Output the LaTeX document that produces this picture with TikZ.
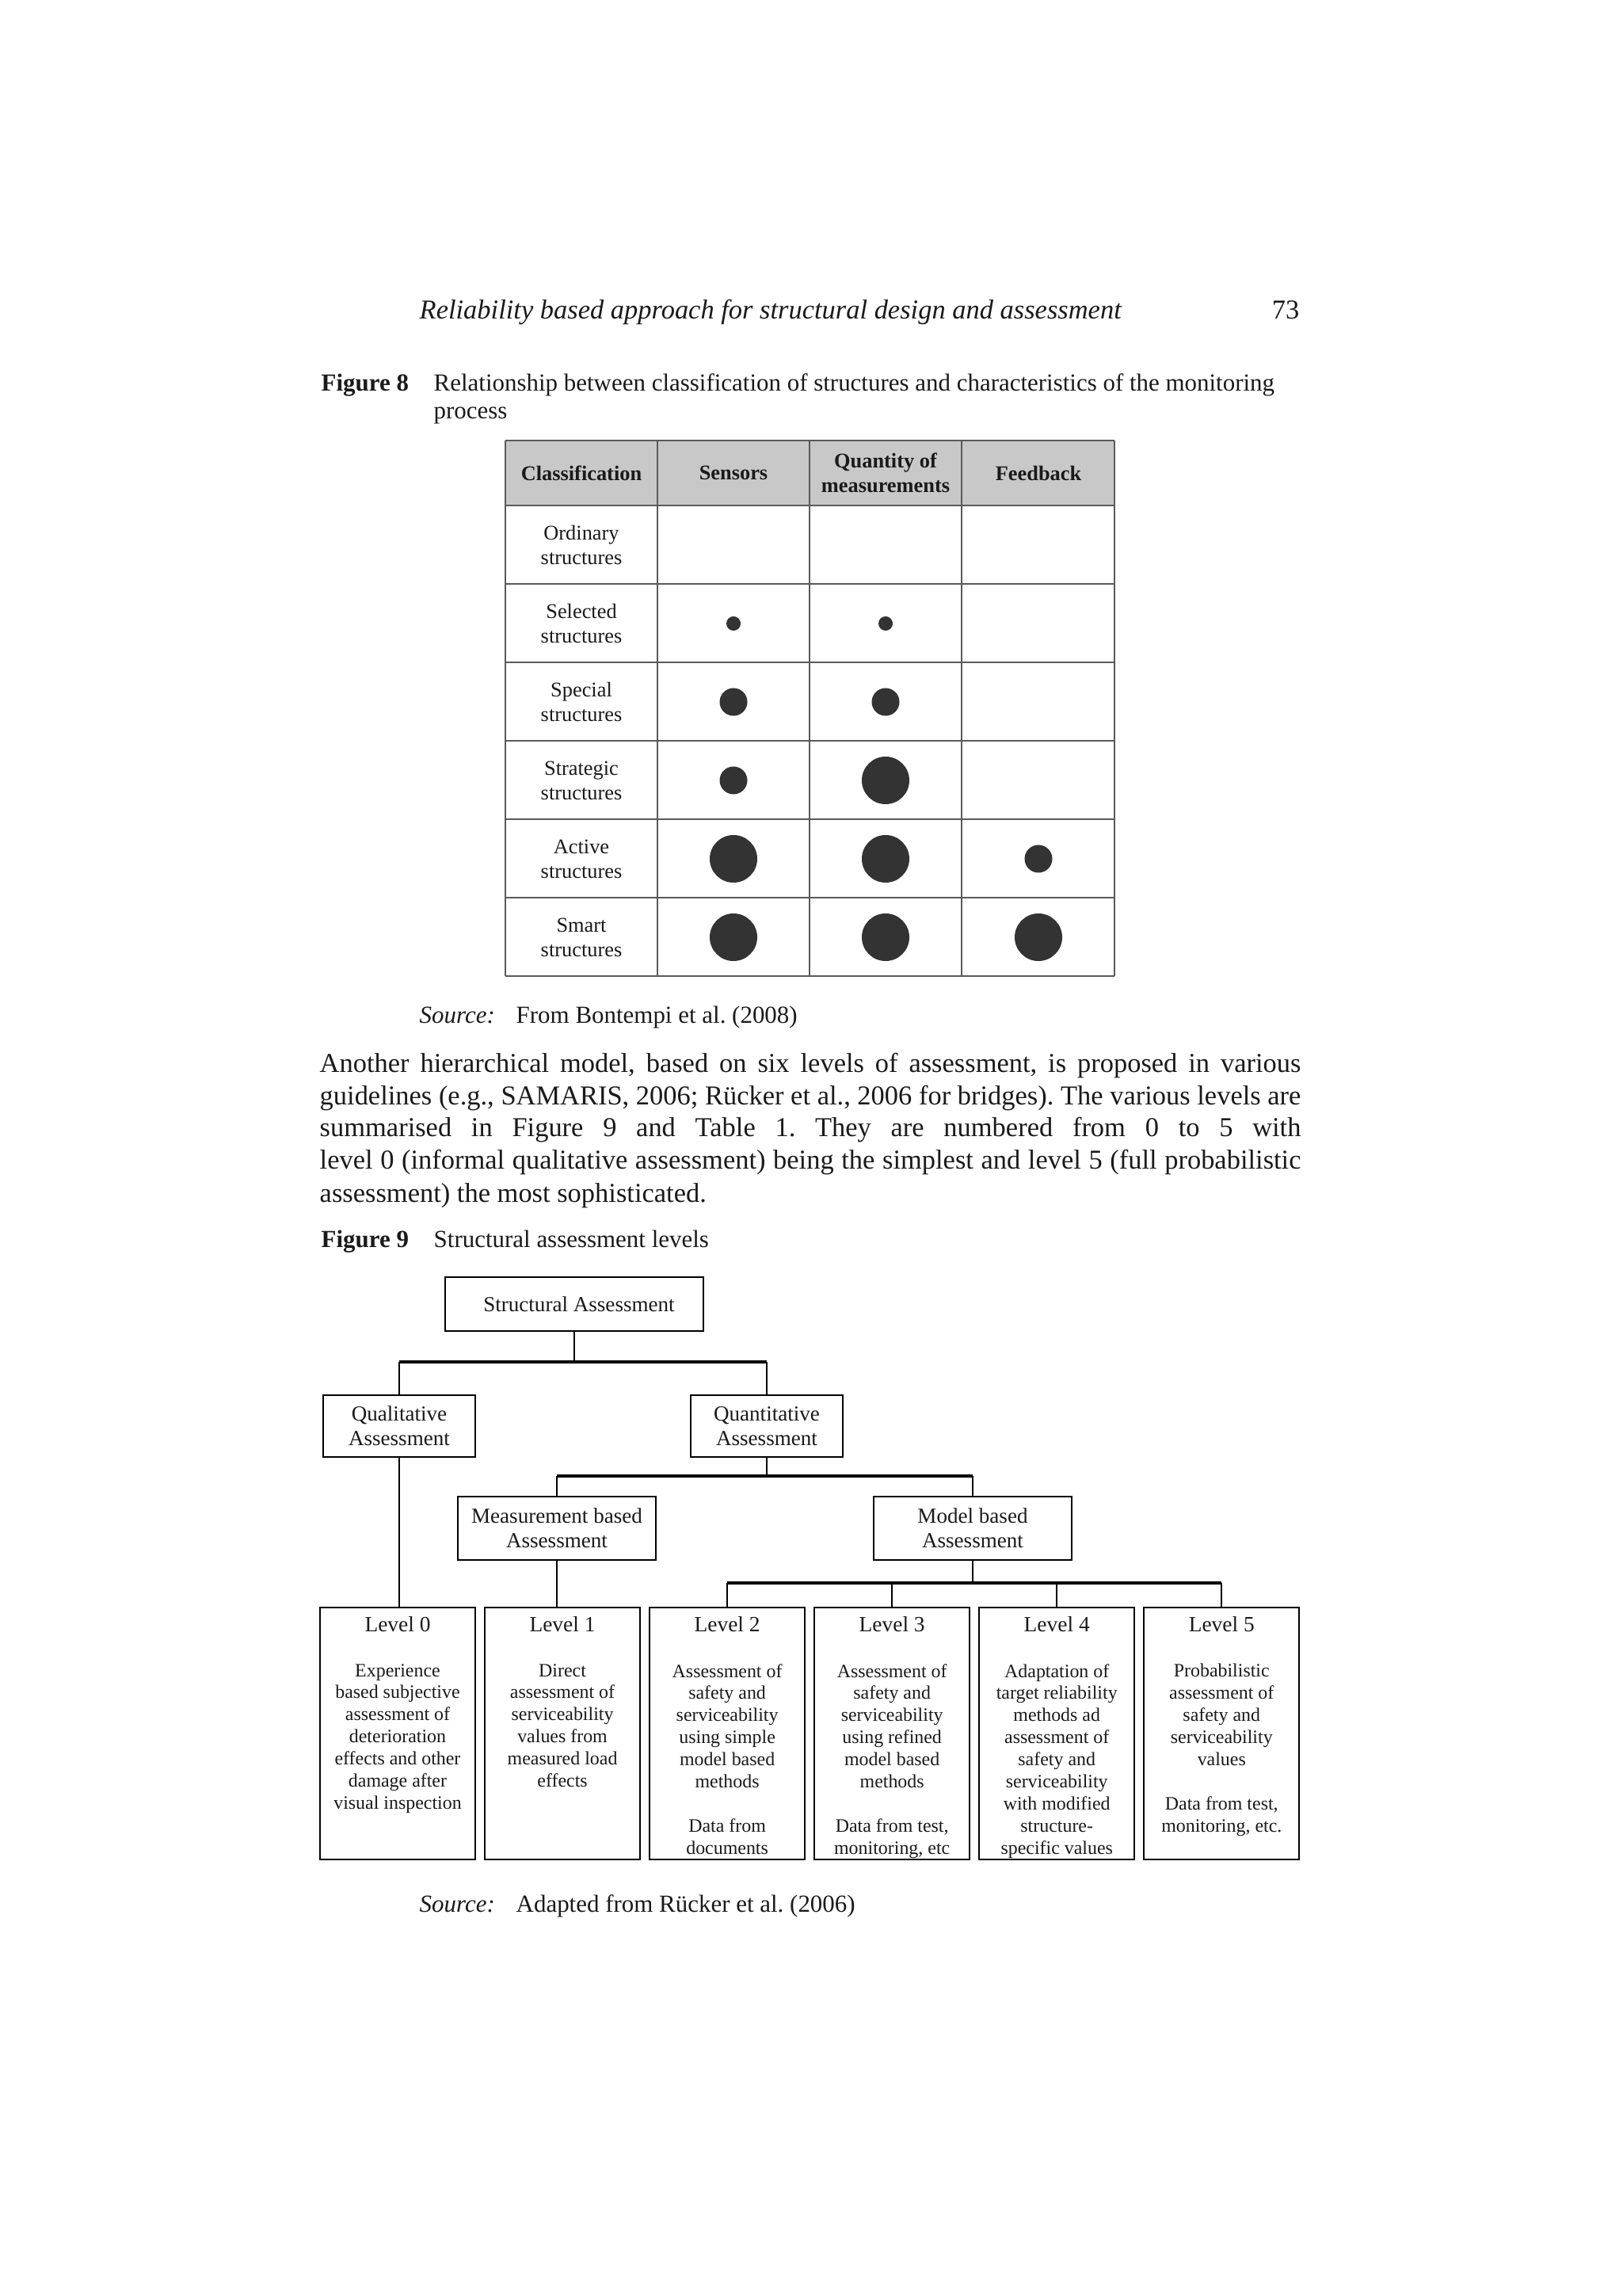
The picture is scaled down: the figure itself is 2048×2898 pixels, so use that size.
\documentclass[tikz,border=0pt]{standalone}
\usepackage{fontspec}
\setmainfont{Liberation Serif}
\usepackage{xcolor}
\usepackage{tikz}
\usetikzlibrary{positioning}
\frenchspacing
\definecolor{PGink}{HTML}{1A1A1A}
\definecolor{PGrule}{HTML}{5A5A5A}
\definecolor{PGhead}{HTML}{C8C8C8}
\definecolor{PGdot}{HTML}{333333}
\newcommand\fsBody{\fontsize{9.8pt}{11.7pt}\selectfont}
\newcommand\fsCap{\fontsize{8.8pt}{10pt}\selectfont}
\newcommand\fsTab{\fontsize{7.5pt}{8.8pt}\selectfont}
\newcommand\fsBox{\fontsize{7.7pt}{8.8pt}\selectfont}
\newcommand\fsLvlHead{\fontsize{7.8pt}{9pt}\selectfont}
\newcommand\fsLvl{\fontsize{6.8pt}{7.94pt}\selectfont}
\tikzset{
  pagetext/.style={inner sep=0pt, anchor=base west, font=\fsBody, text=PGink},
  captext/.style={inner sep=0pt, anchor=base west, font=\fsCap, text=PGink},
  tabhead/.style={inner sep=0pt, align=center, font=\fsTab\bfseries, text=PGink},
  tabcell/.style={inner sep=0pt, align=center, font=\fsTab, text=PGink},
  tabrule/.style={draw=PGrule, line width=0.45pt},
  dotS/.style={circle, fill=PGdot, inner sep=0pt, minimum size=0.18cm},
  dotM/.style={circle, fill=PGdot, inner sep=0pt, minimum size=0.35cm},
  dotL/.style={circle, fill=PGdot, inner sep=0pt, minimum size=0.60cm},
  treebox/.style={draw=black, line width=0.55pt, align=center, font=\fsBox, inner sep=0pt, text=PGink},
  lvlbox/.style={draw=black, line width=0.55pt, minimum width=1.96cm, minimum height=3.17cm, inner sep=0pt},
  lvlhead/.style={inner sep=0pt, anchor=base, font=\fsLvlHead, text=PGink},
  lvlbody/.style={inner sep=0pt, anchor=north, align=center, font=\fsLvl, text=PGink},
  treeline/.style={line width=0.55pt},
  treebar/.style={line width=1.1pt}
}
\begin{document}
\begin{tikzpicture}[x=0.01cm, y=-0.01cm, node distance=0.10cm]
  \fill[white] (0,0) rectangle (2048,2898);
  \useasboundingbox (0,0) rectangle (2048,2898);

  \node[pagetext, font=\fsBody\itshape] (runhead) at (529,403) {Reliability based approach for structural design and assessment};
  \node[pagetext, anchor=base east] (pageno) at (1641,403) {73};

  \node[captext, font=\fsCap\bfseries] (fig8) at (405,494) {Figure 8};
  \node[captext] (fig8a) at (547,494) {Relationship between classification of structures and characteristics of the monitoring};
  \node[captext] (fig8b) at (547,529) {process};

  \fill[PGhead] (638,556) rectangle (1407,638);
  \foreach \y in {556,638,737,836,935,1034,1133,1232} \draw[tabrule] (638,\y) -- (1407,\y);
  \foreach \x in {638,830,1022,1214,1407} \draw[tabrule] (\x,556) -- (\x,1232);
  \node[tabhead] (hcls) at (734,597) {Classification};
  \node[tabhead] (hsen) at (926,597) {Sensors};
  \node[tabhead] (hqty) at (1118,597) {Quantity of\\measurements};
  \node[tabhead] (hfb) at (1311,597) {Feedback};
  \foreach \n [count=\i] in {Ordinary,Selected,Special,Strategic,Active,Smart}
    \node[tabcell] (cls\i) at (734,{638.5+99*\i-49.5}) {\n\\structures};
  \foreach \cx/\cy/\sz [count=\k] in {926/787/dotS, 1118/787/dotS, 926/886/dotM, 1118/886/dotM, 926/985/dotM, 1118/985/dotL, 926/1084/dotL, 1118/1084/dotL, 1311/1084/dotM, 926/1183/dotL, 1118/1183/dotL, 1311/1183/dotL}
    \node[\sz] (dot\k) at (\cx,\cy) {};

  \node[captext, font=\fsCap\itshape] (src1) at (529,1291) {Source:};
  \node[captext] (src1t) at (651,1291) {From Bontempi et al. (2008)};

  \node[pagetext] (par1) at (403,1353) {\makebox[12.38cm][s]{Another hierarchical model, based on six levels of assessment, is proposed in various}};
  \node[pagetext] (par2) at (403,1394) {\makebox[12.38cm][s]{guidelines (e.g., SAMARIS, 2006; Rücker et al., 2006 for bridges). The various levels are}};
  \node[pagetext] (par3) at (403,1434) {\makebox[12.38cm][s]{summarised in Figure 9 and Table 1. They are numbered from 0 to 5 with}};
  \node[pagetext] (par4) at (403,1475) {\makebox[12.38cm][s]{level 0 (informal qualitative assessment) being the simplest and level 5 (full probabilistic}};
  \node[pagetext] (par5) at (403,1517) {assessment) the most sophisticated.};

  \node[captext, font=\fsCap\bfseries] (fig9) at (405,1574) {Figure 9};
  \node[captext] (fig9a) at (547,1574) {Structural assessment levels};

  \node[treebox, minimum width=3.25cm, minimum height=0.68cm] (sa) at (725,1646) {\hspace{0.12cm}Structural Assessment};
  \node[treebox, minimum width=1.91cm, minimum height=0.78cm] (qual) at (504,1800) {Qualitative\\Assessment};
  \node[treebox, minimum width=1.91cm, minimum height=0.78cm] (quan) at (968,1800) {Quantitative\\Assessment};
  \node[treebox, minimum width=2.49cm, minimum height=0.80cm] (meas) at (703,1929) {Measurement based\\Assessment};
  \node[treebox, minimum width=2.50cm, minimum height=0.80cm] (model) at (1228,1929) {Model based\\Assessment};

  \node[lvlbox] (l0) at (502,2188) {};
  \node[lvlbox, right=of l0] (l1) {};
  \node[lvlbox, right=of l1] (l2) {};
  \node[lvlbox, right=of l2] (l3) {};
  \node[lvlbox, right=of l3] (l4) {};
  \node[lvlbox, right=of l4] (l5) {};
  \foreach \k in {0,...,5}
    \node[lvlhead, yshift=-0.31cm] (lh\k) at (l\k.north) {Level \k};
  \node[lvlbody, yshift=-0.71cm] (lb0) at (l0.north) {Experience\\based subjective\\assessment of\\deterioration\\effects and other\\damage after\\visual inspection};
  \node[lvlbody, yshift=-0.71cm] (lb1) at (l1.north) {Direct\\assessment of\\serviceability\\values from\\measured load\\effects};
  \node[lvlbody, yshift=-0.71cm] (lb2) at (l2.north) {Assessment of\\safety and\\serviceability\\using simple\\model based\\methods\\[7.94pt]Data from\\documents};
  \node[lvlbody, yshift=-0.71cm] (lb3) at (l3.north) {Assessment of\\safety and\\serviceability\\using refined\\model based\\methods\\[7.94pt]Data from test,\\monitoring, etc};
  \node[lvlbody, yshift=-0.71cm] (lb4) at (l4.north) {Adaptation of\\target reliability\\methods ad\\assessment of\\safety and\\serviceability\\with modified\\structure-\\specific values};
  \node[lvlbody, yshift=-0.71cm] (lb5) at (l5.north) {Probabilistic\\assessment of\\safety and\\serviceability\\values\\[7.94pt]Data from test,\\monitoring, etc.};

  \coordinate (barA) at (0,1719);
  \coordinate (barB) at (0,1863);
  \coordinate (barC) at (0,1998);
  \draw[treeline] (sa.south) -- (sa.south |- barA);
  \draw[treebar] (qual.north |- barA) -- (quan.north |- barA);
  \draw[treeline] (qual.north |- barA) -- (qual.north);
  \draw[treeline] (quan.north |- barA) -- (quan.north);
  \draw[treeline] (qual.south) -- (qual.south |- l0.north);
  \draw[treeline] (quan.south) -- (quan.south |- barB);
  \draw[treebar] (meas.north |- barB) -- (model.north |- barB);
  \draw[treeline] (meas.north |- barB) -- (meas.north);
  \draw[treeline] (model.north |- barB) -- (model.north);
  \draw[treeline] (meas.south) -- (meas.south |- l1.north);
  \draw[treeline] (model.south) -- (model.south |- barC);
  \draw[treebar] (l2.north |- barC) -- (l5.north |- barC);
  \foreach \k in {2,...,5} \draw[treeline] (l\k.north |- barC) -- (l\k.north);

  \node[captext, font=\fsCap\itshape] (src2) at (529,2413) {Source:};
  \node[captext] (src2t) at (651,2413) {Adapted from Rücker et al. (2006)};
\end{tikzpicture}
\end{document}
